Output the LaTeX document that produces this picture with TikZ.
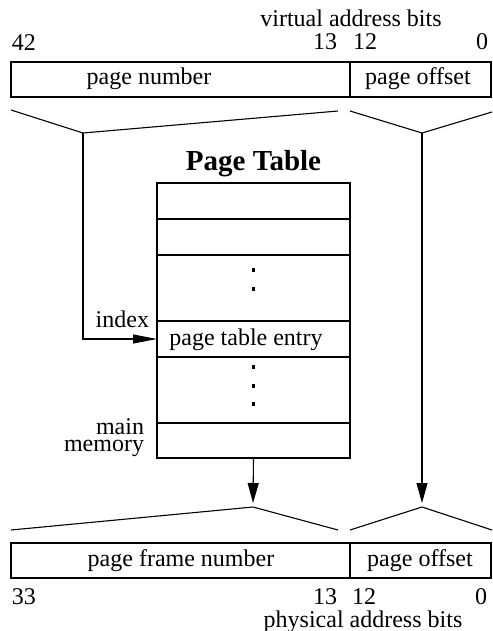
\documentclass[tikz,border=0pt]{standalone}
\usepackage{fontspec}
\setmainfont{Liberation Serif}
\usetikzlibrary{arrows.meta}
\begin{document}
\begin{tikzpicture}[x=1pt,y=-1pt,
  line width=1.1pt,
  every node/.style={inner sep=0pt,outer sep=0pt},
  lbl/.style={font=\fontsize{24}{24}\selectfont,anchor=base},
  cell/.style={draw,rectangle,line width=1.1pt},
  row/.style={cell,minimum width=193pt},
  arr/.style={-{Triangle[length=20pt,width=11pt]}},
  funnel/.style={line width=1.1pt}]
\useasboundingbox (0,0) rectangle (492,631);

% virtual address bar
\node[lbl] (vab) at (351,27) {virtual address bits};
\node[lbl,anchor=base west] (v42) at (12,51) {42};
\node[lbl,anchor=base east] (v13) at (337,50) {13};
\node[lbl,anchor=base west] (v12) at (353,50) {12};
\node[lbl,anchor=base east] (v0) at (488,50) {0};
\node[cell,minimum width=339pt,minimum height=35pt] (vpn) at (180.5,79.5) {};
\node[cell,minimum width=141pt,minimum height=35pt] (vpo) at (420.5,79.5) {};
\node[lbl] (vpnt) at (149,85) {page number};
\node[lbl] (vpot) at (418,85) {page offset};

% funnels below the virtual address
\coordinate (ta) at (83,133);
\coordinate (tb) at (422,133);
\draw[funnel] (11,110) -- (ta) -- (338,111);
\draw[funnel] (350,111) -- (tb) -- (492,112);

% page table
\node[font=\fontsize{29}{29}\selectfont\bfseries,anchor=base] (ttl) at (253.5,171) {Page Table};
\node[row,minimum height=36pt] (r1) at (253.5,201) {};
\node[row,minimum height=36pt] (r2) at (253.5,237) {};
\node[row,minimum height=66pt] (r3) at (253.5,288) {};
\node[row,minimum height=36pt] (r4) at (253.5,339) {};
\node[row,minimum height=66pt] (r5) at (253.5,390) {};
\node[row,minimum height=35pt] (r6) at (253.5,440.5) {};
\node[lbl] (pte) at (246,345) {page table entry};
\foreach \y in {270,289,367,386,404}
  \fill (251.7,\y-1.7) rectangle (255.3,\y+1.7);

\node[lbl,anchor=base east] (idx) at (149,327) {index};
\node[font=\fontsize{24}{17}\selectfont,align=right,anchor=base east] (mm) at (144,451) {main\\memory};

% index arrow into the table
\draw[-{Triangle[length=24pt,width=9pt]}] (ta) |- (r4.west);

% funnels above the physical address
\coordinate (ba) at (253,507);
\coordinate (bb) at (422,507);
\draw[arr] (r6.south) -- (253,503);
\draw[arr] (tb) -- (422,503);
\draw[funnel] (11,530) -- (ba) -- (338,530);
\draw[funnel] (350,530) -- (bb) -- (492,530);

% physical address bar
\node[cell,minimum width=339pt,minimum height=35pt] (ppn) at (180.5,560.5) {};
\node[cell,minimum width=141pt,minimum height=35pt] (ppo) at (420.5,560.5) {};
\node[lbl] (ppnt) at (181,566) {page frame number};
\node[lbl] (ppot) at (420,566) {page offset};
\node[lbl,anchor=base west] (p33) at (12,604) {33};
\node[lbl,anchor=base east] (p13) at (337,604) {13};
\node[lbl,anchor=base west] (p12) at (352,604) {12};
\node[lbl,anchor=base east] (p0) at (487,604) {0};
\node[lbl] (pab) at (363,627) {physical address bits};
\end{tikzpicture}
\end{document}
